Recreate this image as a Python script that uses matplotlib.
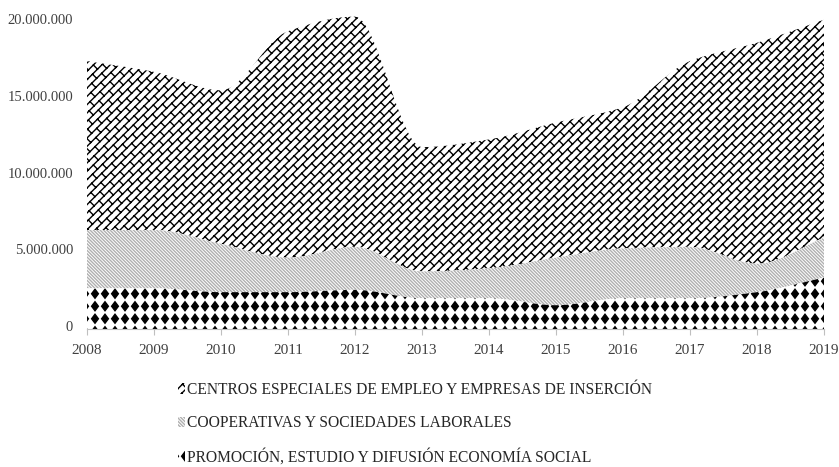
import warnings
import numpy as np
import matplotlib.pyplot as plt
import matplotlib.hatch as mhatch
from matplotlib.patches import Patch
from matplotlib.path import Path
from matplotlib.ticker import FuncFormatter
from matplotlib.transforms import ScaledTranslation

# Datos (euros)
anios = [2008, 2009, 2010, 2011, 2012, 2013, 2014, 2015, 2016, 2017, 2018, 2019]
promocion = [2650000, 2650000, 2400000, 2400000, 2550000, 2000000,
             2000000, 1550000, 2000000, 2000000, 2400000, 3350000]
cooperativas = [3800000, 3800000, 3150000, 2250000, 2800000, 1750000,
                1950000, 3100000, 3250000, 3350000, 1850000, 2600000]
centros = [11000000, 10300000, 10000000, 14750000, 15000000, 8100000,
           8400000, 8800000, 9200000, 12100000, 14400000, 14200000]

etiquetas = ['CENTROS ESPECIALES DE EMPLEO Y EMPRESAS DE INSERCIÓN',
             'COOPERATIVAS Y SOCIEDADES LABORALES',
             'PROMOCIÓN, ESTUDIO Y DIFUSIÓN ECONOMÍA SOCIAL']

plt.rcParams['font.family'] = ['Liberation Serif', 'DejaVu Serif']
warnings.filterwarnings('ignore', message='hatch must consist')


class Rombos(mhatch.HatchPatternBase):
    # trama de rombos negros en rejilla alineada (caracter 'd')
    ncol, nfil = 10, 8
    forma = np.array([[0, 0.045], [0.034, 0], [0, -0.045], [-0.034, 0], [0, 0.045]])

    def __init__(self, hatch, density):
        n = hatch.count('d')
        self.num_vertices = self.ncol * self.nfil * len(self.forma) if n else 0

    def set_vertices_and_codes(self, vertices, codes):
        partes = []
        for i in range(self.ncol):
            for j in range(self.nfil):
                partes.append(self.forma + [(i + 0.5) / self.ncol, (j + 0.5) / self.nfil])
        vertices[:] = np.concatenate(partes)
        cod = np.full(len(self.forma), Path.LINETO, dtype=Path.code_type)
        cod[0] = Path.MOVETO
        cod[-1] = Path.CLOSEPOLY
        codes[:] = np.tile(cod, self.ncol * self.nfil)


class Ladrillos(mhatch.HatchPatternBase):
    # trama de ladrillos inclinados (caracter 'b')
    N, M = 12, 10

    def __init__(self, hatch, density):
        self.num_vertices = 0
        if 'b' not in hatch:
            return
        v = []
        for k in range(-self.N, self.N + 1):
            c = k / self.N
            v += [(0, c), (1, 1 + c)]
        d = 0.5 / self.N
        L = 1 / self.M
        for k in range(-self.N - 1, self.N + 1):
            c = (k + 1) / self.N
            desfase = (-k * (d + L / 2)) % L
            for j in range(-1, self.M + 2):
                x0 = j * L + desfase
                y0 = x0 + c
                if -0.1 < x0 < 1.05 and -0.1 < y0 < 1.1:
                    v += [(x0, y0), (x0 + d, y0 - d)]
        self.v = np.array(v, dtype=float)
        self.num_vertices = len(self.v)

    def set_vertices_and_codes(self, vertices, codes):
        vertices[:] = self.v
        codes[0::2] = Path.MOVETO
        codes[1::2] = Path.LINETO


mhatch._hatch_types.append(Rombos)
mhatch._hatch_types.append(Ladrillos)


def grosor_trama(artista, lw):
    # el grosor de la trama se lee al dibujar
    dibujar = artista.draw

    def draw(renderer):
        with plt.rc_context({'hatch.linewidth': lw}):
            dibujar(renderer)
    artista.draw = draw


def suavizar(x, y, n=24):
    # curva Hermite monotona entre los puntos anuales
    x = np.asarray(x, float)
    y = np.asarray(y, float)
    d = np.diff(y) / np.diff(x)
    m = np.zeros_like(y)
    m[0], m[-1] = d[0], d[-1]
    for k in range(1, len(y) - 1):
        if d[k - 1] * d[k] > 0:
            m[k] = 2 / (1 / d[k - 1] + 1 / d[k])
    xs, ys = [], []
    t = np.linspace(0, 1, n, endpoint=False)
    for k in range(len(y) - 1):
        h = x[k + 1] - x[k]
        h00 = 2 * t ** 3 - 3 * t ** 2 + 1
        h10 = t ** 3 - 2 * t ** 2 + t
        h01 = -2 * t ** 3 + 3 * t ** 2
        h11 = t ** 3 - t ** 2
        xs.append(x[k] + t * h)
        ys.append(h00 * y[k] + h10 * h * m[k] + h01 * y[k + 1] + h11 * h * m[k + 1])
    xs.append(x[-1:])
    ys.append(y[-1:])
    return np.concatenate(xs), np.concatenate(ys)


c1 = np.array(promocion, dtype=float)
c2 = c1 + np.array(cooperativas)
c3 = c2 + np.array(centros)

xs, s1 = suavizar(anios, c1)
_, s2 = suavizar(anios, c2)
_, s3 = suavizar(anios, c3)

fig = plt.figure(figsize=(8.39, 4.67), dpi=100)
ax = fig.add_axes([87 / 839, 1 - 329 / 467, (824 - 87) / 839, (329 - 22) / 467])

estilos = [
    dict(facecolor='white', edgecolor='black', hatch='b', hlw=0.9),
    dict(facecolor='white', edgecolor='#b0b0b0', hatch='\\' * 10, hlw=0.75),
    dict(facecolor='white', edgecolor='black', hatch='d', hlw=0.6),
]

capas = [(s2, s3), (s1, s2), (np.zeros_like(s1), s1)]
for (lo, hi), st in zip(capas, estilos):
    area = ax.fill_between(xs, lo, hi, facecolor=st['facecolor'], edgecolor=st['edgecolor'],
                           hatch=st['hatch'], linewidth=0, clip_on=False)
    grosor_trama(area, st['hlw'])

ax.set_xlim(2008, 2019)
ax.set_ylim(0, 20000000)
ax.set_xticks(anios)
ax.set_yticks([0, 5000000, 10000000, 15000000, 20000000])
ax.yaxis.set_major_formatter(FuncFormatter(lambda v, p: f'{int(v):,}'.replace(',', '.')))

for lado in ['top', 'right', 'left']:
    ax.spines[lado].set_visible(False)
ax.spines['bottom'].set_color('#bfbfbf')
ax.spines['bottom'].set_zorder(5)
ax.tick_params(axis='x', colors='#bfbfbf', length=4, labelcolor='#404040', labelsize=11, pad=7)
ax.tick_params(axis='y', length=0, labelcolor='#404040', labelsize=10.5, pad=10)
for lab in ax.get_yticklabels():
    lab.set_transform(lab.get_transform() + ScaledTranslation(0, 3 / 100, fig.dpi_scale_trans))

manejadores = []
for st in estilos:
    manejadores.append(Patch(facecolor=st['facecolor'], edgecolor=st['edgecolor'],
                             hatch=st['hatch'], linewidth=0))

ley = fig.legend(manejadores, etiquetas, loc='upper left', bbox_to_anchor=(164 / 839, 1 - 368 / 467),
                 frameon=False, fontsize=11.2, handlelength=0.45, handleheight=0.7,
                 handletextpad=0.1, labelspacing=1.12, labelcolor='#262626')
for h, st in zip(ley.get_patches(), estilos):
    grosor_trama(h, st['hlw'])

fig.savefig('out.png', dpi=100)
